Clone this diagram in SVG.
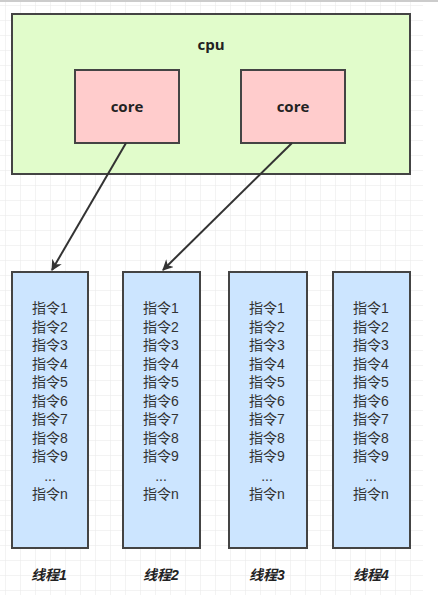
<svg xmlns="http://www.w3.org/2000/svg" width="438" height="616" viewBox="0 0 438 616">
<defs>
<pattern id="grid" width="15" height="15" patternUnits="userSpaceOnUse" x="5" y="5">
<path d="M15 0 L0 0 0 15" fill="none" stroke="#e8e8e8" stroke-width="1"/>
</pattern>
<marker id="arr" viewBox="0 0 10 10" refX="9" refY="5" markerWidth="11" markerHeight="11" orient="auto" markerUnits="userSpaceOnUse">
<path d="M0 0 L10 5 L0 10 L3 5 Z" fill="#333"/>
</marker>
<style>
.box{stroke:#444;stroke-width:2}
.lbl{font-family:"Open Sans","Liberation Sans",sans-serif;font-weight:bold;font-size:15px;fill:#222;text-anchor:middle}
.ins{font-family:"Liberation Sans","Noto Sans CJK SC",sans-serif;font-size:14px;fill:#333;text-anchor:middle}
.th{font-family:"Liberation Sans","Noto Sans CJK SC",sans-serif;font-weight:bold;font-style:italic;font-size:14px;fill:#222;text-anchor:middle}
.conn{stroke:#333;stroke-width:2;fill:none}
</style>
</defs>
<rect width="438" height="616" fill="#fff"/>
<rect x="0" y="0" width="423" height="595" fill="url(#grid)"/>
<line x1="0" y1="1" x2="438" y2="1" stroke="#ccc" stroke-width="2"/>
<g id="cpu">
<rect class="box" x="12" y="14" width="398" height="160" fill="#e1fccb"/>
<text class="lbl" x="211" y="50">cpu</text>
</g>
<g id="core1">
<rect class="box" x="75" y="70" width="104" height="73" fill="#ffcccc"/>
<text class="lbl" x="127" y="112">core</text>
</g>
<g id="core2">
<rect class="box" x="241" y="70" width="104" height="73" fill="#ffcccc"/>
<text class="lbl" x="293" y="112">core</text>
</g>
<g id="connectors">
<line class="conn" x1="126" y1="143" x2="52" y2="270" marker-end="url(#arr)"/>
<line class="conn" x1="292" y1="143" x2="163" y2="270" marker-end="url(#arr)"/>
</g>
<g id="thread1">
<rect class="box" x="12" y="272" width="76" height="276" fill="#cce5ff"/>
<text class="ins" x="50" y="313">指令1</text>
<text class="ins" x="50" y="332">指令2</text>
<text class="ins" x="50" y="350">指令3</text>
<text class="ins" x="50" y="369">指令4</text>
<text class="ins" x="50" y="387">指令5</text>
<text class="ins" x="50" y="406">指令6</text>
<text class="ins" x="50" y="424">指令7</text>
<text class="ins" x="50" y="443">指令8</text>
<text class="ins" x="50" y="461">指令9</text>
<text class="ins" x="50" y="481">...</text>
<text class="ins" x="50" y="499">指令n</text>
</g>
<g id="thread2">
<rect class="box" x="123" y="272" width="77" height="276" fill="#cce5ff"/>
<text class="ins" x="161" y="313">指令1</text>
<text class="ins" x="161" y="332">指令2</text>
<text class="ins" x="161" y="350">指令3</text>
<text class="ins" x="161" y="369">指令4</text>
<text class="ins" x="161" y="387">指令5</text>
<text class="ins" x="161" y="406">指令6</text>
<text class="ins" x="161" y="424">指令7</text>
<text class="ins" x="161" y="443">指令8</text>
<text class="ins" x="161" y="461">指令9</text>
<text class="ins" x="161" y="481">...</text>
<text class="ins" x="161" y="499">指令n</text>
</g>
<g id="thread3">
<rect class="box" x="229" y="272" width="78" height="276" fill="#cce5ff"/>
<text class="ins" x="267" y="313">指令1</text>
<text class="ins" x="267" y="332">指令2</text>
<text class="ins" x="267" y="350">指令3</text>
<text class="ins" x="267" y="369">指令4</text>
<text class="ins" x="267" y="387">指令5</text>
<text class="ins" x="267" y="406">指令6</text>
<text class="ins" x="267" y="424">指令7</text>
<text class="ins" x="267" y="443">指令8</text>
<text class="ins" x="267" y="461">指令9</text>
<text class="ins" x="267" y="481">...</text>
<text class="ins" x="267" y="499">指令n</text>
</g>
<g id="thread4">
<rect class="box" x="333" y="272" width="77" height="276" fill="#cce5ff"/>
<text class="ins" x="371" y="313">指令1</text>
<text class="ins" x="371" y="332">指令2</text>
<text class="ins" x="371" y="350">指令3</text>
<text class="ins" x="371" y="369">指令4</text>
<text class="ins" x="371" y="387">指令5</text>
<text class="ins" x="371" y="406">指令6</text>
<text class="ins" x="371" y="424">指令7</text>
<text class="ins" x="371" y="443">指令8</text>
<text class="ins" x="371" y="461">指令9</text>
<text class="ins" x="371" y="481">...</text>
<text class="ins" x="371" y="499">指令n</text>
</g>
<g id="labels">
<text class="th" x="49" y="580">线程1</text>
<text class="th" x="161" y="580">线程2</text>
<text class="th" x="267" y="580">线程3</text>
<text class="th" x="371" y="580">线程4</text>
</g>
</svg>
